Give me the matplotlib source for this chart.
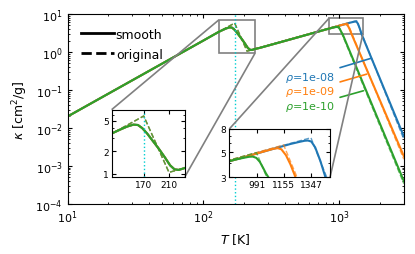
import matplotlib
matplotlib.use("Agg")
import matplotlib.pyplot as plt
from mpl_toolkits.axes_grid1.inset_locator import mark_inset
from matplotlib.ticker import FixedLocator, NullFormatter, FixedFormatter, NullLocator

# ---------------- data ----------------
rho_labels = [r"$\rho$=1e-08", r"$\rho$=1e-09", r"$\rho$=1e-10"]
colors = ["#1f77b4", "#ff7f0e", "#2ca02c"]

# common low-temperature part of the smooth curve (T [K], kappa [cm^2/g])
T_low_s = [10, 50, 100, 130, 140, 148, 156, 162, 168, 175, 183, 193, 203, 212, 220, 228, 240, 260, 400, 600, 800]
k_low_s = [0.02, 0.5, 2.0, 3.4, 3.85, 4.2, 4.45, 4.4, 4.0, 3.4, 2.75, 2.14, 1.65, 1.3, 1.15, 1.13, 1.2, 1.28, 1.96, 2.94, 3.92]

# high-temperature part of the smooth curves, one per density
T_high_s = [
    [880, 950, 1050, 1120, 1200, 1260, 1300, 1324, 1350, 1380, 1420, 1462, 3000],   # 1e-8
    [880, 950, 1000, 1050, 1090, 1117, 1140, 1170, 1200, 1235, 3000],               # 1e-9
    [880, 920, 950, 970, 990, 1010, 1030, 1045, 1060, 3000],                        # 1e-10
]
k_high_s = [
    [4.3, 4.65, 5.15, 5.5, 5.9, 6.15, 6.3, 6.33, 6.2, 5.5, 4.2, 3.0, 6.0e-3],
    [4.3, 4.65, 4.9, 5.15, 5.35, 5.42, 5.3, 4.7, 3.9, 3.0, 1.8e-3],
    [4.3, 4.45, 4.55, 4.57, 4.45, 4.1, 3.6, 3.25, 3.0, 4.0e-4],
]

# original (piecewise power-law) curves
T_low_o = [10, 170, 210]
k_low_o = [0.02, 5.78, 1.05]
T_high_o = [[1347, 3000], [1155, 3000], [991, 3000]]
k_high_o = [[6.7, 5.0e-3], [5.78, 1.5e-3], [4.95, 3.4e-4]]

# annotation anchor points on the curves and text positions
ann_xy = [(1712, 0.678), (1600, 0.261), (1511, 0.095)]
ann_txt = [(608, 0.222), (608, 0.095), (608, 0.038)]

T_mark = 170

# ---------------- figure ----------------
plt.rcParams.update({
    "font.size": 8,
    "xtick.direction": "in", "ytick.direction": "in",
    "xtick.top": True, "ytick.right": True,
    "xtick.major.size": 3, "ytick.major.size": 3,
    "xtick.minor.size": 1.5, "ytick.minor.size": 1.5,
    "xtick.minor.visible": True, "ytick.minor.visible": True,
    "axes.linewidth": 0.8,
})

fig = plt.figure(figsize=(4.15, 2.55), dpi=100)
ax = fig.add_axes([0.163, 0.197, 0.81, 0.744])


def draw(a, lw_s=1.5, lw_o=1.0):
    for i in range(3):
        Ts = T_low_s + T_high_s[i]
        ks = k_low_s + k_high_s[i]
        To = T_low_o + T_high_o[i]
        ko = k_low_o + k_high_o[i]
        a.plot(To, ko, ls="--", color=colors[i], lw=lw_o, alpha=0.7)
        a.plot(Ts, ks, ls="-", color=colors[i], lw=lw_s)
    a.axvline(T_mark, color="darkturquoise", ls=":", lw=1.0)


draw(ax)
ax.set_xscale("log")
ax.set_yscale("log")
ax.set_xlim(10, 3000)
ax.set_ylim(1e-4, 10)
ax.set_xlabel(r"$T$ [K]", fontsize=9)
ax.set_ylabel(r"$\kappa$ [cm$^2$/g]", fontsize=9)

# legend
ax.plot([], [], "k-", lw=2, label="smooth")
ax.plot([], [], "k--", lw=2, label="original")
ax.legend(loc="upper left", frameon=False, fontsize=9, handlelength=2.6,
          handletextpad=0.15, borderaxespad=0.7, labelspacing=0.55)

for i in range(3):
    ax.annotate(rho_labels[i], xy=ann_xy[i], xytext=ann_txt[i], color=colors[i],
                fontsize=8, ha="center", va="center",
                arrowprops=dict(arrowstyle="-", color=colors[i], lw=1.2, shrinkA=2, shrinkB=0))

# inset 1
ax1 = fig.add_axes([0.269, 0.303, 0.1766, 0.263])
draw(ax1, lw_s=1.5, lw_o=1.0)
ax1.set_xscale("log")
ax1.set_yscale("log")
ax1.set_xlim(130, 240)
ax1.set_ylim(0.92, 7.0)
ax1.xaxis.set_major_locator(FixedLocator([170, 210]))
ax1.xaxis.set_major_formatter(FixedFormatter(["170", "210"]))
ax1.xaxis.set_minor_locator(NullLocator())
ax1.yaxis.set_major_locator(FixedLocator([1, 2, 5]))
ax1.yaxis.set_major_formatter(FixedFormatter(["1", "2", "5"]))
ax1.yaxis.set_minor_locator(FixedLocator([3, 4, 6]))
ax1.yaxis.set_minor_formatter(NullFormatter())
ax1.tick_params(labelsize=6.5, pad=2)
mark_inset(ax, ax1, loc1=2, loc2=4, fc="none", ec="0.5", lw=1.2)

# inset 2
ax2 = fig.add_axes([0.5525, 0.3008, 0.2427, 0.1894])
draw(ax2, lw_s=1.5, lw_o=1.0)
ax2.set_xscale("log")
ax2.set_yscale("log")
ax2.set_xlim(850, 1500)
ax2.set_ylim(3, 8)
ax2.xaxis.set_major_locator(FixedLocator([991, 1155, 1347]))
ax2.xaxis.set_major_formatter(FixedFormatter(["991", "1155", "1347"]))
ax2.xaxis.set_minor_locator(NullLocator())
ax2.yaxis.set_major_locator(FixedLocator([3, 5, 8]))
ax2.yaxis.set_major_formatter(FixedFormatter(["3", "5", "8"]))
ax2.yaxis.set_minor_locator(FixedLocator([4, 6, 7]))
ax2.yaxis.set_minor_formatter(NullFormatter())
ax2.tick_params(labelsize=6.5, pad=2)
mark_inset(ax, ax2, loc1=2, loc2=4, fc="none", ec="0.5", lw=1.2)

fig.savefig("out.png", dpi=100)
